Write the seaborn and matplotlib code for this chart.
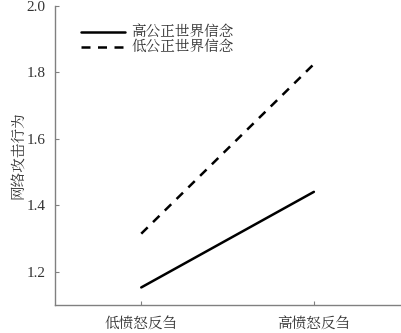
import matplotlib
matplotlib.use("Agg")
import matplotlib.pyplot as plt
import seaborn as sns
import pandas as pd

conditions = ["低愤怒反刍", "高愤怒反刍"]
high_belief = [1.152, 1.44]
low_belief = [1.314, 1.825]
group_labels = ["高公正世界信念", "低公正世界信念"]

df = pd.DataFrame({
    "cond": conditions * 2,
    "x": [0, 1] * 2,
    "y": high_belief + low_belief,
    "group": [group_labels[0]] * 2 + [group_labels[1]] * 2,
})

sns.set_style("ticks")
plt.rcParams["font.family"] = ["Liberation Serif", "Noto Serif CJK SC", "Noto Sans CJK SC"]

txt = "#333333"

fig, ax = plt.subplots(figsize=(4.01, 3.33), dpi=100)
sns.lineplot(data=df, x="x", y="y", hue="group", style="group",
             palette=["black", "black"], dashes=[(None, None), (3.6, 3.0)],
             linewidth=1.8, ax=ax)

ax.set_xlim(-0.5, 1.5)
ax.set_ylim(1.1, 2.0)
ax.set_xticks([0, 1])
ax.set_xticklabels(conditions, fontsize=10.5, color=txt)
ax.set_yticks([1.2, 1.4, 1.6, 1.8, 2.0])
ax.set_yticklabels(["1.2", "1.4", "1.6", "1.8", "2.0"], fontsize=11, color=txt)
ax.set_xlabel("")
ax.set_ylabel("网络攻击行为", fontsize=10.5, color=txt, labelpad=1)
ax.tick_params(direction="in", length=3, color="gray", width=0.8)
ax.tick_params(axis="x", pad=9)
ax.tick_params(axis="y", pad=7)

for s in ["top", "right"]:
    ax.spines[s].set_visible(False)
for s in ["left", "bottom"]:
    ax.spines[s].set_color("gray")
    ax.spines[s].set_linewidth(1.0)

leg = ax.legend(loc="upper left", bbox_to_anchor=(0.06, 0.955), frameon=False,
                fontsize=10.5, handlelength=3.0, handletextpad=0.4,
                labelspacing=0.05, borderaxespad=0)
for t in leg.get_texts():
    t.set_color(txt)

fig.subplots_adjust(left=0.137, right=0.998, top=0.982, bottom=0.085)
fig.savefig("out.png", dpi=100)
